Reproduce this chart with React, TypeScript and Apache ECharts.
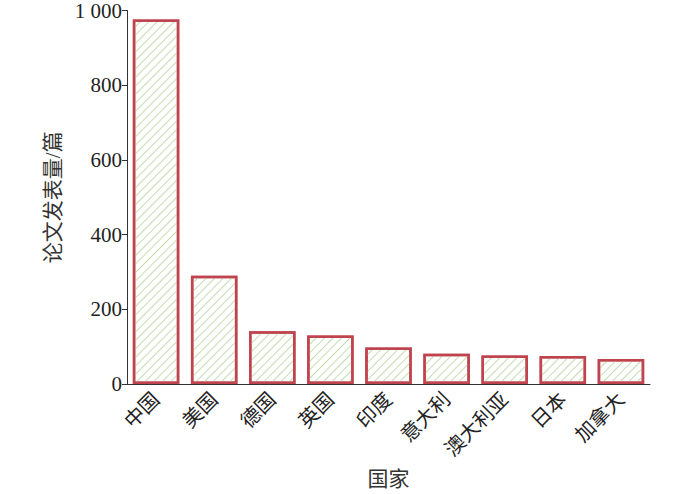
import React, { useEffect, useRef } from "react";
import * as echarts from "echarts";

const categories = ["中国", "美国", "德国", "英国", "印度", "意大利", "澳大利亚", "日本", "加拿大"];
const papers = [976, 290, 141, 130, 98, 81, 76, 75, 67];
const yTicks = [0, 200, 400, 600, 800, 1000];

const serif = "'Liberation Serif', 'Noto Sans CJK SC', serif";

export default function App() {
  const ref = useRef<HTMLDivElement>(null);
  useEffect(() => {
    if (!ref.current) return;
    const chart = echarts.init(ref.current, null, { renderer: "svg" });
    chart.setOption({
      animation: false,
      backgroundColor: "#ffffff",
      grid: { left: 127, top: 10, right: 43, bottom: 107, containLabel: false },
      xAxis: {
        type: "category",
        data: categories,
        name: "国家",
        nameLocation: "middle",
        nameGap: 84,
        nameTextStyle: { fontFamily: serif, fontSize: 21, color: "#333" },
        axisLine: { lineStyle: { color: "#333", width: 1 } },
        axisTick: { inside: true, length: 5, lineStyle: { color: "#333" } },
        axisLabel: {
          rotate: 45,
          margin: 12,
          fontFamily: serif,
          fontSize: 20,
          color: "#222",
        },
      },
      yAxis: {
        type: "value",
        min: 0,
        max: 1000,
        interval: 200,
        name: "论文发表量/篇",
        nameLocation: "middle",
        nameGap: 56,
        nameTextStyle: { fontFamily: serif, fontSize: 21, color: "#333" },
        axisLine: { show: true, lineStyle: { color: "#333", width: 1 } },
        axisTick: { show: true, length: 5, lineStyle: { color: "#333" } },
        splitLine: { show: false },
        axisLabel: {
          margin: 5,
          fontFamily: serif,
          fontSize: 21,
          color: "#222",
          formatter: (v: number) =>
            yTicks.includes(v) ? String(v).replace(/\B(?=(\d{3})+(?!\d))/g, " ") : "",
        },
      },
      series: [
        {
          type: "bar",
          data: papers,
          barCategoryGap: "20%",
          itemStyle: {
            color: "#ffffff",
            borderColor: "#c0444f",
            borderWidth: 2.5,
            decal: {
              symbol: "rect",
              symbolSize: 1,
              dashArrayX: [1, 0],
              dashArrayY: [1, 5],
              rotation: -Math.PI / 4,
              color: "#c4dcae",
            },
          },
        },
      ],
    });
    return () => chart.dispose();
  }, []);
  return <div ref={ref} style={{ width: 693, height: 494, position: "absolute", left: 0, top: 0 }} />;
}
